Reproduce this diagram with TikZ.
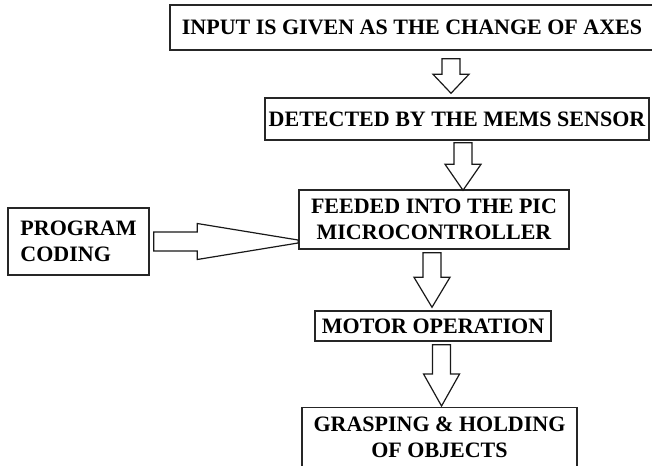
\documentclass[tikz,border=0pt]{standalone}
\usepackage{fontspec}
\setmainfont{Liberation Serif}
\usetikzlibrary{calc}

\tikzset{
  stage/.style={draw=black!85, line width=1.1pt, inner sep=0pt, align=center,
    font=\bfseries\fontsize{16.5pt}{19.5pt}\selectfont},
  % outlined block arrow pointing down, #1 = head length
  hollowdown/.style={draw=black!90, line width=0.9pt, to path={
    let \p1=(\tikztostart), \p2=(\tikztotarget) in
    (\x1-6.75pt,\y1) -- (\x1+6.75pt,\y1) -- (\x1+6.75pt,\y2+#1) -- (\x1+13.5pt,\y2+#1)
    -- (\x1,\y2) -- (\x1-13.5pt,\y2+#1) -- (\x1-6.75pt,\y2+#1) -- cycle}},
  % outlined block arrow pointing right, #1 = head length
  hollowright/.style={draw=black!90, line width=0.9pt, to path={
    let \p1=(\tikztostart), \p2=(\tikztotarget) in
    (\x1,\y1+7.1pt) -- (\x2-#1,\y1+7.1pt) -- (\x2-#1,\y1+13.5pt) -- (\x2,\y1+1.1pt)
    -- (\x2,\y1-1.1pt) -- (\x2-#1,\y1-13.5pt) -- (\x2-#1,\y1-7.1pt) -- (\x1,\y1-7.1pt) -- cycle}},
}

\begin{document}
\begin{tikzpicture}[x=0.75pt, y=-0.75pt]
  \useasboundingbox (0,0) rectangle (652,465);
  \clip (0,0) rectangle (652,465);

  % blocks
  \node[stage, minimum width=363pt, minimum height=33.75pt] (input) at (412,27.5) {INPUT IS GIVEN AS THE CHANGE OF AXES};
  \node[stage, minimum width=288pt, minimum height=31.5pt] (sensor) at (457,119) {DETECTED BY THE MEMS SENSOR};
  \node[stage, minimum width=202.5pt, minimum height=44.25pt] (pic) at (434,219.5) {FEEDED INTO THE PIC\\MICROCONTROLLER};
  \node[stage, minimum width=177pt, minimum height=22.5pt] (motor) at (433,326) {MOTOR OPERATION};
  \node[stage, anchor=north, minimum width=206.25pt, inner ysep=6.75pt, text depth=45pt] (grasp) at (439.5,407) {GRASPING \& HOLDING\\OF OBJECTS};
  \node[stage, align=left, minimum width=105.75pt, minimum height=50.25pt] (prog) at (78.5,241.5) {PROGRAM\\CODING};

  % arrows
  \draw[hollowdown=14.25pt] ([xshift=29.25pt,yshift=-6pt]input.south) to ([yshift=3pt]sensor.north);
  \draw[hollowdown=19.5pt] ([xshift=4.5pt,yshift=-1.5pt]sensor.south) to ([yshift=-0.75pt]pic.north);
  \draw[hollowdown=22.5pt] ([xshift=-1.5pt,yshift=-2.25pt]pic.south) to ([yshift=2.25pt]motor.north);
  \draw[hollowdown=24pt] ([xshift=6.4pt,yshift=-2.25pt]motor.south) to ([yshift=0.75pt]grasp.north);
  \draw[hollowright=75.75pt] ([xshift=3pt]prog.east) to (pic.west);
\end{tikzpicture}
\end{document}
